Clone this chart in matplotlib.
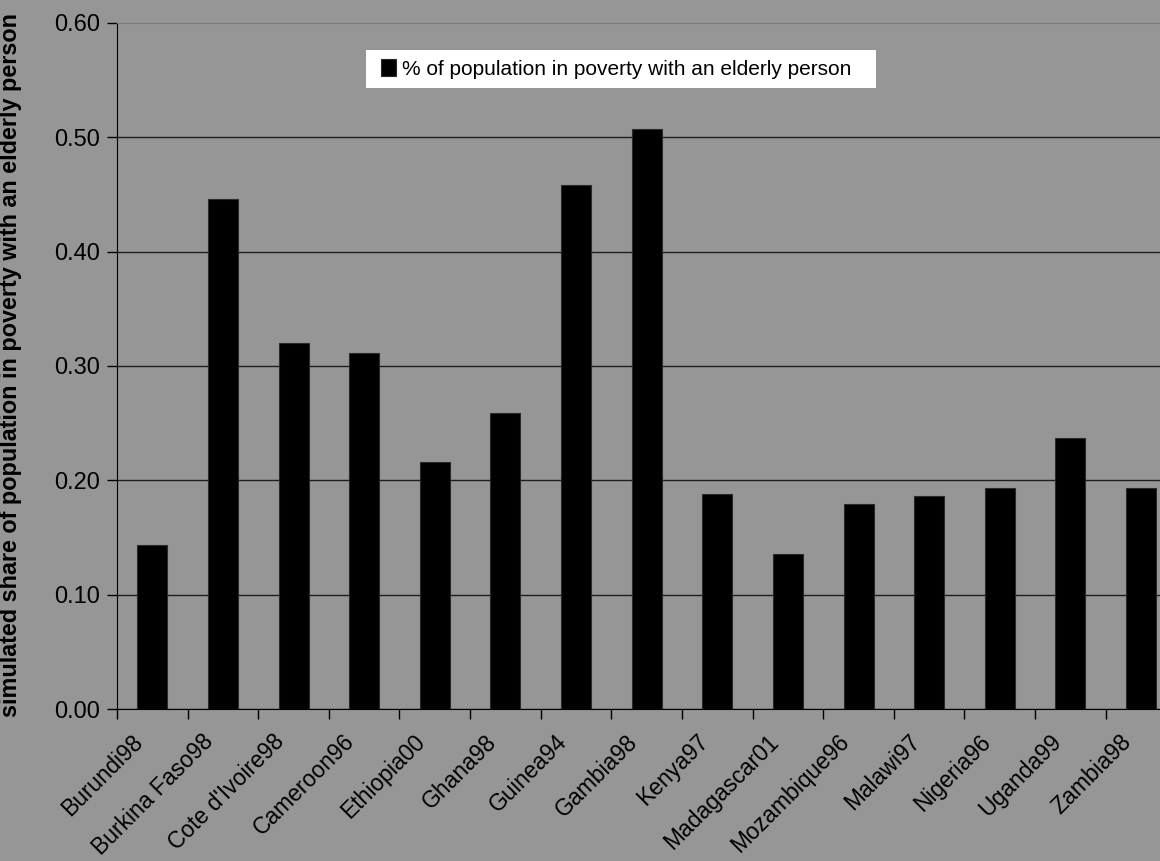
import matplotlib.pyplot as plt
import matplotlib.transforms as mtransforms
from matplotlib.patches import Rectangle
import numpy as np

plt.rcParams['font.family'] = ['Liberation Sans', 'DejaVu Sans']

countries = ["Burundi98", "Burkina Faso98", "Cote d'Ivoire98", "Cameroon96",
             "Ethiopia00", "Ghana98", "Guinea94", "Gambia98", "Kenya97",
             "Madagascar01", "Mozambique96", "Malawi97", "Nigeria96",
             "Uganda99", "Zambia98"]
share_elderly = [0.144, 0.446, 0.320, 0.311, 0.216, 0.259, 0.458, 0.507,
                 0.188, 0.136, 0.179, 0.186, 0.193, 0.237, 0.193]
yticks = [0.0, 0.1, 0.2, 0.3, 0.4, 0.5, 0.6]

W, H = 1160, 861
bg = "#969696"
fig = plt.figure(figsize=(W / 100, H / 100), dpi=100, facecolor=bg)
# plot area runs past the right edge of the canvas
ax = fig.add_axes([117 / W, 1 - 709.3 / H, 1059.3 / W, 686.6 / H])
ax.set_facecolor(bg)

x = np.arange(len(countries))
ax.bar(x, share_elderly, width=0.425, color="black", edgecolor="#2a2a2a",
       linewidth=0.8, zorder=3,
       label="% of population in poverty with an elderly person")

ax.set_xlim(-0.5, len(countries) - 0.5)
ax.set_ylim(0, 0.6)
ax.set_yticks(yticks)
ax.set_yticklabels([f"{v:.2f}" for v in yticks], fontsize=17)
ax.yaxis.grid(True, color="#1e1e1e", linewidth=1.0, zorder=1)
ax.get_ygridlines()[-1].set_visible(False)

ax.set_xticks(x)
ax.set_xticks(np.arange(-0.5, len(countries)), minor=True)
ax.set_xticklabels(countries, fontsize=16.5, rotation=45, ha="right",
                   va="top", rotation_mode="anchor")
ax.tick_params(axis="x", which="major", length=0, pad=15)
ax.tick_params(axis="x", which="minor", length=7, width=1, color="black",
               direction="out")
ax.tick_params(axis="y", length=7, width=1, color="black", pad=5)
shift = mtransforms.ScaledTranslation(-21 / 100, 0, fig.dpi_scale_trans)
for lbl in ax.get_xticklabels():
    lbl.set_transform(lbl.get_transform() + shift)

ax.spines["right"].set_visible(False)
ax.spines["top"].set_color("#7a7a7a")
ax.spines["left"].set_color("black")
ax.spines["bottom"].set_color("black")

ax.set_ylabel("simulated share of population in poverty with an elderly person",
              fontsize=16.8, fontweight="bold")
ax.yaxis.set_label_coords(22 / W, 1 - 365 / H, transform=fig.transFigure)

# white legend box, drawn separately so its padding can be set freely
fig.patches.append(Rectangle((366 / W, 1 - 88 / H), 510 / W, 38 / H,
                             transform=fig.transFigure, facecolor="white",
                             edgecolor="none", zorder=4))
leg = fig.legend(loc="center left", bbox_to_anchor=(381 / W, 1 - 69 / H),
                 frameon=False, fontsize=15, handlelength=0.72,
                 handleheight=0.85, handletextpad=0.3, borderpad=0,
                 borderaxespad=0)
leg.set_zorder(5)

fig.savefig("out.png", dpi=100, facecolor=bg)
